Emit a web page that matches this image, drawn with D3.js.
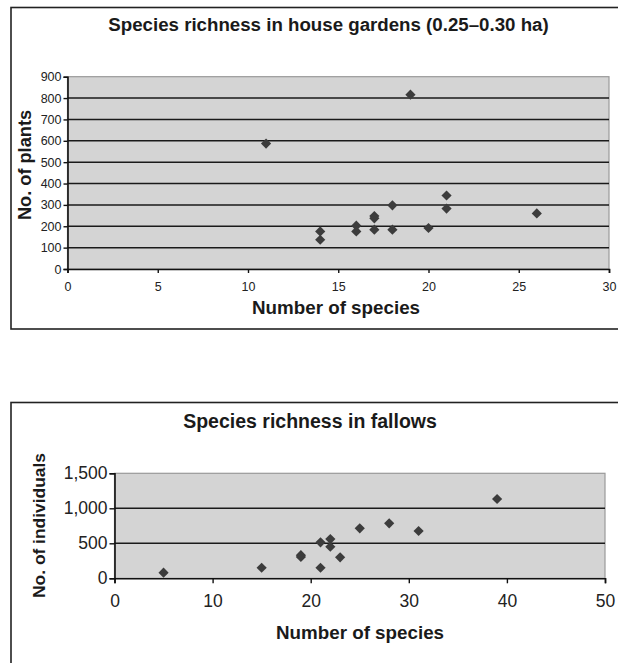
<!DOCTYPE html>
<html><head><meta charset="utf-8">
<script src="https://cdn.jsdelivr.net/npm/d3@7"></script>
<style>body{margin:0;background:#fff}svg{display:block;font-family:Arial,"Liberation Sans",sans-serif}</style>
</head><body>
<svg id="c" width="618" height="663"></svg>
<script>
// Chart 1: house gardens
const gardenSpecies = [11, 14, 14, 16, 16, 17, 17, 17, 18, 18, 19, 20, 21, 21, 26];
const gardenPlants  = [587, 176, 137, 203, 176, 248, 237, 184, 298, 184, 816, 192, 344, 283, 260];
const gardenXTicks = [0, 5, 10, 15, 20, 25, 30];
const gardenYTicks = [0, 100, 200, 300, 400, 500, 600, 700, 800, 900];
// Chart 2: fallows
const fallowSpecies = [5, 15, 19, 19, 21, 21, 22, 22, 23, 25, 28, 31, 39];
const fallowIndiv   = [80, 151, 330, 305, 514, 151, 561, 451, 300, 714, 786, 676, 1133];
const fallowXTicks = [0, 10, 20, 30, 40, 50];
const fallowYTicks = [0, 500, 1000, 1500];

const svg = d3.select("#c");
const diamond = {draw(ctx, size){const r=Math.sqrt(size/2);ctx.moveTo(0,-r);ctx.lineTo(r,0);ctx.lineTo(0,r);ctx.lineTo(-r,0);ctx.closePath();}};

function chart(o){
  const g = svg.append("g");
  g.append("rect").attr("x",o.box[0]).attr("y",o.box[1]).attr("width",o.box[2]).attr("height",o.box[3])
    .attr("fill","#fff").attr("stroke","#222").attr("stroke-width",1.6);
  const x = d3.scaleLinear().domain(o.xd).range([o.L,o.R]);
  const y = d3.scaleLinear().domain(o.yd).range([o.B,o.T]);
  g.append("rect").attr("x",o.L).attr("y",o.T).attr("width",o.R-o.L).attr("height",o.B-o.T)
    .attr("fill","#d4d4d4").attr("stroke","#999").attr("stroke-width",1.2);
  // gridlines
  g.selectAll(".gl").data(o.yt.filter(v=>v>o.yd[0]&&v<o.yd[1])).join("line")
    .attr("x1",o.L).attr("x2",o.R).attr("y1",d=>y(d)).attr("y2",d=>y(d))
    .attr("stroke","#1a1a1a").attr("stroke-width",1.5);
  // axes
  const ax = g.append("g").attr("transform",`translate(0,${o.B})`)
    .call(d3.axisBottom(x).tickValues(o.xt).tickSize(o.tk).tickPadding(o.xpad).tickFormat(d3.format("d")));
  const ay = g.append("g").attr("transform",`translate(${o.L},0)`)
    .call(d3.axisLeft(y).tickValues(o.yt).tickSize(o.tk).tickPadding(o.ypad).tickFormat(o.yfmt));
  [ax,ay].forEach(a=>{
    a.select(".domain").attr("stroke","#111").attr("stroke-width",1.6);
    a.selectAll(".tick line").attr("stroke","#111").attr("stroke-width",1.4);
    a.selectAll("text").attr("font-size",o.fs).attr("fill","#222").attr("font-family","Arial,'Liberation Sans',sans-serif");
  });
  // points
  g.selectAll(".pt").data(o.xs.map((v,i)=>[v,o.ys[i]])).join("path")
    .attr("d", d3.symbol().type(diamond).size(52))
    .attr("transform",d=>`translate(${x(d[0])},${y(d[1])})`)
    .attr("fill","#3c3c3c");
  // titles
  const t = (txt,xx,yy,fs,rot)=>g.append("text").text(txt).attr("font-weight","bold").attr("font-size",fs)
    .attr("fill","#1a1a1a").attr("text-anchor","middle")
    .attr("transform",`translate(${xx},${yy})${rot?" rotate(-90)":""}`);
  t(o.title, o.tx, o.ty, o.tfs);
  t("Number of species", o.xtx, o.xty, 18.8);
  t(o.ylab, o.ytx, o.yty, o.yfs, true);
}

chart({box:[11,7.5,620,321.5], L:67.5, R:609, T:76.7, B:269, xd:[0,30], yd:[0,900],
  xt:gardenXTicks, yt:gardenYTicks, xs:gardenSpecies, ys:gardenPlants, tk:4, xpad:9, ypad:2,
  fs:12.5, yfmt:d3.format("d"),
  title:"Species richness in house gardens (0.25–0.30 ha)", tx:328.5, ty:30.5, tfs:18.7,
  xtx:336, xty:314, ylab:"No. of plants", ytx:31, yty:165, yfs:18.2});

chart({box:[11,402.5,620,280], L:114.5, R:605, T:473.3, B:578.3, xd:[0,50], yd:[0,1500],
  xt:fallowXTicks, yt:fallowYTicks, xs:fallowSpecies, ys:fallowIndiv, tk:5, xpad:11, ypad:2,
  fs:17.5, yfmt:d3.format(","),
  title:"Species richness in fallows", tx:310, ty:428, tfs:19.5,
  xtx:360, xty:639, ylab:"No. of individuals", ytx:45, yty:525.5, yfs:17.4});
</script>
</body></html>
